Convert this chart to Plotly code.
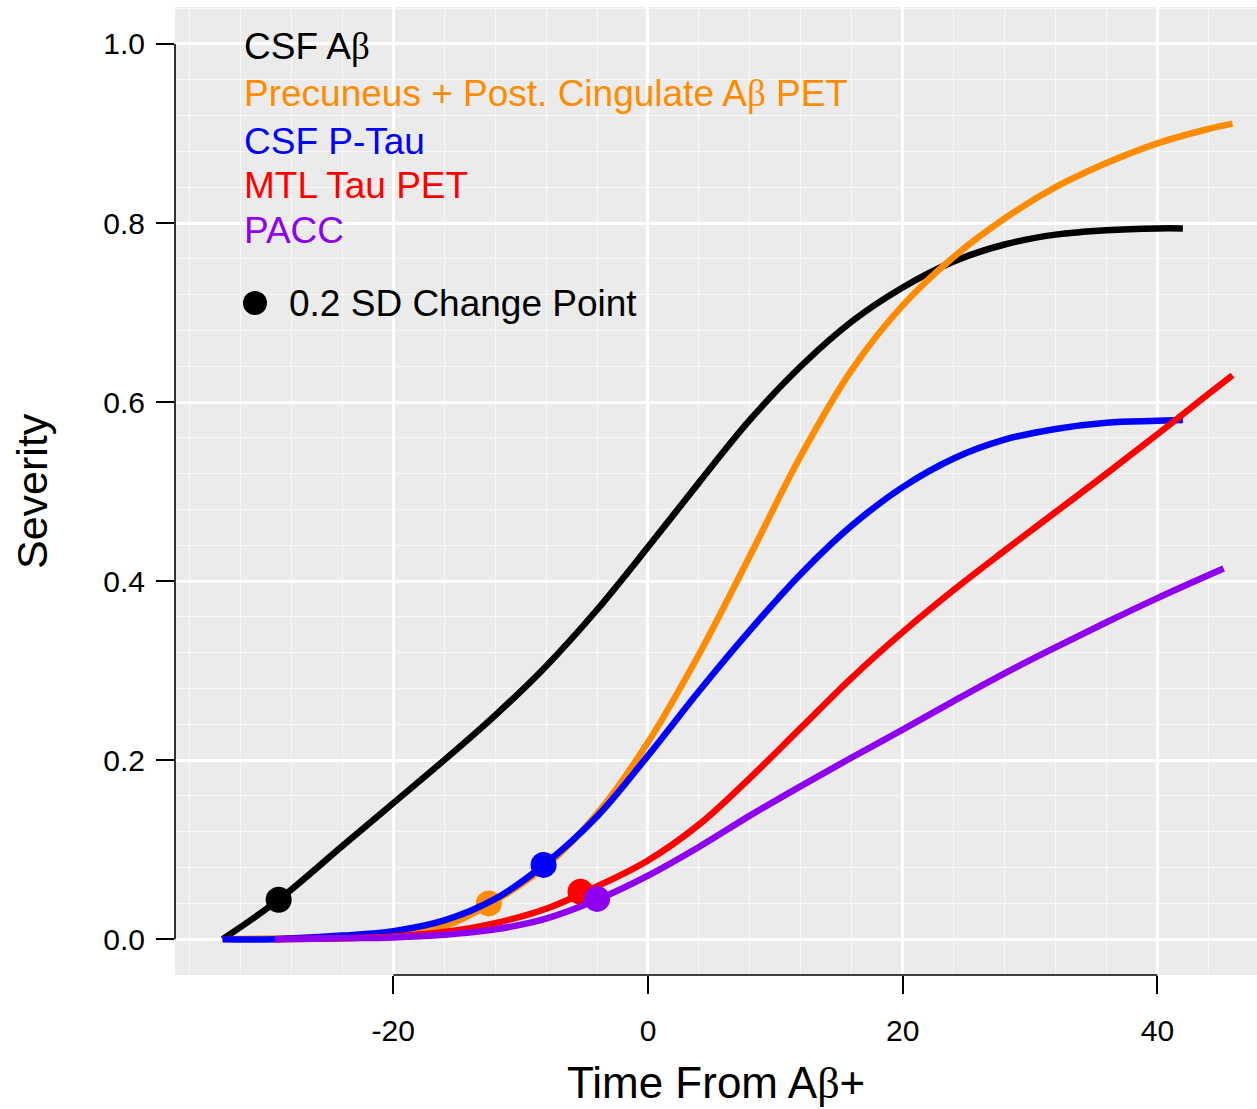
import plotly.graph_objects as go

# ---------------- data ----------------
x_csf_ab = [-33.4, -29.0, -24, -20, -16, -12, -8, -4, 0, 4, 8, 12, 16, 20, 24, 28, 32, 36, 40, 42]
y_csf_ab = [0.0, 0.044, 0.104, 0.152, 0.200, 0.250, 0.305, 0.368, 0.438, 0.510, 0.580, 0.640,
            0.690, 0.728, 0.757, 0.776, 0.787, 0.792, 0.794, 0.794]

x_pet_ab = [-33.4, -28, -24, -20, -16, -12, -8, -4, 0, 4, 8, 12, 16, 20, 24, 28, 32, 36, 40, 44, 45.9]
y_pet_ab = [0.0, 0.001, 0.002, 0.005, 0.014, 0.043, 0.082, 0.140, 0.220, 0.318, 0.428, 0.540,
            0.636, 0.708, 0.762, 0.805, 0.840, 0.867, 0.889, 0.905, 0.911]

x_ptau = [-33.4, -29.3, -24, -20, -16, -12, -8, -4, 0, 4, 8, 12, 16, 20, 24, 28, 32, 36, 40, 42]
y_ptau = [0.0, 0.0, 0.004, 0.009, 0.021, 0.045, 0.085, 0.137, 0.205, 0.277, 0.345, 0.408,
          0.462, 0.505, 0.537, 0.558, 0.570, 0.577, 0.579, 0.580]

x_mtl = [-29.3, -24, -20, -16, -12, -8, -4, 0, 4, 8, 12, 16, 20, 24, 28, 32, 36, 40, 44, 45.9]
y_mtl = [0.0, 0.001, 0.003, 0.008, 0.018, 0.034, 0.059, 0.088, 0.128, 0.180, 0.236, 0.292,
         0.343, 0.390, 0.434, 0.477, 0.520, 0.564, 0.609, 0.630]

x_pacc = [-29.3, -24, -20, -16, -12, -8, -4, 0, 4, 8, 12, 16, 20, 24, 28, 32, 36, 40, 45.2]
y_pacc = [0.0, 0.001, 0.002, 0.005, 0.011, 0.023, 0.044, 0.071, 0.103, 0.138, 0.171, 0.203,
          0.234, 0.266, 0.297, 0.326, 0.354, 0.381, 0.414]

# 0.2 SD change points
cp_x = [-29.0, -12.5, -8.2, -5.3, -4.0]
cp_y = [0.044, 0.040, 0.083, 0.053, 0.045]

BETA = "<span style=\"font-family:Liberation Serif\">β</span>"
series_names = ["CSF A" + BETA,
                "Precuneus + Post. Cingulate A" + BETA + " PET",
                "CSF P-Tau", "MTL Tau PET", "PACC"]
colors = ["#000000", "#FF8C00", "#0000FF", "#FF0000", "#8F00F0"]

x_ticks = [-20, 0, 20, 40]
y_ticks = [0.0, 0.2, 0.4, 0.6, 0.8, 1.0]
y_ticklabels = ["0.0", "0.2", "0.4", "0.6", "0.8", "1.0"]

xs = [x_csf_ab, x_pet_ab, x_ptau, x_mtl, x_pacc]
ys = [y_csf_ab, y_pet_ab, y_ptau, y_mtl, y_pacc]

FONT = "Liberation Sans, Arial, sans-serif"

fig = go.Figure()
for i in range(5):
    fig.add_trace(go.Scatter(x=xs[i], y=ys[i], mode="lines",
                             line=dict(color=colors[i], width=6.5, shape="spline", smoothing=1.0),
                             hoverinfo="skip", showlegend=False))
    fig.add_trace(go.Scatter(x=[cp_x[i]], y=[cp_y[i]], mode="markers",
                             marker=dict(color=colors[i], size=26, line=dict(width=0)),
                             hoverinfo="skip", showlegend=False))

W, H = 1257, 1109
L, R, T, B = 175, 0, 7, 134
pw, ph = W - L - R, H - T - B

def py(ypx):
    return (H - B - ypx) / ph

def pxx(xpx):
    return (xpx - L) / pw

# text legend
legend_y = [47, 94, 141, 186, 230]
for i in range(5):
    fig.add_annotation(x=pxx(242), y=py(legend_y[i]), xref="paper", yref="paper",
                       text=series_names[i], showarrow=False, xanchor="left", yanchor="middle",
                       font=dict(family=FONT, size=37, color=colors[i]))
fig.add_annotation(x=pxx(287), y=py(303), xref="paper", yref="paper",
                   text="0.2 SD Change Point", showarrow=False, xanchor="left", yanchor="middle",
                   font=dict(family=FONT, size=37, color="black"))
fig.add_shape(type="circle", xref="paper", yref="paper", xsizemode="pixel", ysizemode="pixel",
              xanchor=pxx(255), yanchor=py(303), x0=-12, x1=12, y0=-12, y1=12,
              fillcolor="black", line=dict(width=0))

# axis titles
fig.add_annotation(x=0.5, y=py(1083), xref="paper", yref="paper",
                   text="Time From A" + BETA + "+",
                   showarrow=False, xanchor="center", yanchor="middle",
                   font=dict(family=FONT, size=44, color="black"))
fig.add_annotation(x=pxx(32), y=0.5, xref="paper", yref="paper", text="Severity", textangle=-90,
                   showarrow=False, xanchor="center", yanchor="middle",
                   font=dict(family=FONT, size=43, color="black"))

# R-style axis lines spanning only the tick range
fig.add_shape(type="line", xref="x", yref="paper", x0=x_ticks[0], x1=x_ticks[-1], y0=0, y1=0,
              line=dict(color="black", width=1.6))
fig.add_shape(type="line", xref="paper", yref="y", x0=0, x1=0, y0=y_ticks[0], y1=y_ticks[-1],
              line=dict(color="black", width=1.6))

fig.update_layout(
    width=W, height=H, margin=dict(l=L, r=R, t=T, b=B, pad=0),
    paper_bgcolor="white", plot_bgcolor="#EBEBEB",
    font=dict(family=FONT, color="black"),
    showlegend=False,
)
fig.update_xaxes(range=[-37.14, 47.82], tickvals=x_ticks, ticktext=[str(v) for v in x_ticks],
                 ticks="outside", ticklen=18, tickwidth=1.6, tickcolor="black",
                 tickfont=dict(size=30, family=FONT, color="black"), ticklabelstandoff=11,
                 showgrid=True, gridcolor="white", gridwidth=2.5,
                 minor=dict(dtick=4, tick0=0, showgrid=True, gridcolor="#F8F8F8", gridwidth=1.2),
                 showline=False, zeroline=False, fixedrange=True)
fig.update_yaxes(range=[-0.04, 1.0413], tickvals=y_ticks, ticktext=y_ticklabels,
                 ticks="outside", ticklen=18, tickwidth=1.6, tickcolor="black",
                 tickfont=dict(size=30, family=FONT, color="black"), ticklabelstandoff=5,
                 showgrid=True, gridcolor="white", gridwidth=2.5,
                 minor=dict(dtick=0.04, tick0=0, showgrid=True, gridcolor="#F8F8F8", gridwidth=1.2),
                 showline=False, zeroline=False, fixedrange=True)

fig.write_html("out.html", config={"displayModeBar": False})
